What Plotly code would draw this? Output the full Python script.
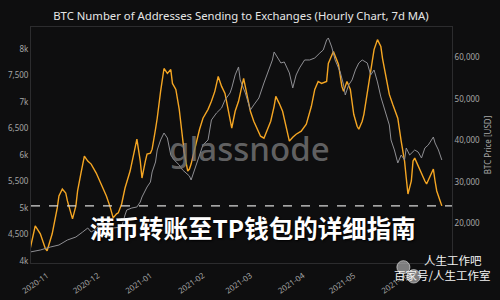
import plotly.graph_objects as go

# ---- data ----
addr_dates = ["2020-10-22","2020-10-25","2020-10-28","2020-10-31","2020-11-01","2020-11-04","2020-11-07","2020-11-08",
 "2020-11-10","2020-11-12","2020-11-13","2020-11-15","2020-11-16","2020-11-18","2020-11-19","2020-11-21","2020-11-23",
 "2020-11-25","2020-11-27","2020-11-30","2020-12-02","2020-12-04","2020-12-06","2020-12-08","2020-12-10","2020-12-12",
 "2020-12-13","2020-12-15","2020-12-17","2020-12-20","2020-12-22","2020-12-24","2020-12-26","2020-12-27","2020-12-29",
 "2020-12-30","2021-01-01","2021-01-02","2021-01-04","2021-01-05","2021-01-07","2021-01-09","2021-01-11","2021-01-13",
 "2021-01-14","2021-01-16","2021-01-18","2021-01-20","2021-01-21","2021-01-23","2021-01-24","2021-01-25","2021-01-27",
 "2021-01-28","2021-01-30","2021-02-01","2021-02-04","2021-02-06","2021-02-08","2021-02-10","2021-02-12","2021-02-14",
 "2021-02-16","2021-02-18","2021-02-20","2021-02-22","2021-02-25","2021-02-27","2021-03-01","2021-03-03","2021-03-05",
 "2021-03-07","2021-03-09","2021-03-11","2021-03-13","2021-03-15","2021-03-16","2021-03-18","2021-03-20","2021-03-22",
 "2021-03-24","2021-03-26","2021-03-28","2021-03-31","2021-04-03","2021-04-06","2021-04-08","2021-04-10","2021-04-12",
 "2021-04-15","2021-04-16","2021-04-19","2021-04-21","2021-04-22","2021-04-24","2021-04-25","2021-04-27","2021-04-28",
 "2021-04-29","2021-05-01","2021-05-03","2021-05-04","2021-05-06","2021-05-07","2021-05-09","2021-05-11","2021-05-13",
 "2021-05-15","2021-05-17","2021-05-18","2021-05-20","2021-05-22","2021-05-24","2021-05-27","2021-05-29","2021-05-31",
 "2021-06-01","2021-06-02","2021-06-04","2021-06-05","2021-06-06","2021-06-08","2021-06-10","2021-06-12","2021-06-13",
 "2021-06-15","2021-06-17","2021-06-18","2021-06-19","2021-06-21","2021-06-22"]
addresses = [4229,4662,4511,4229,4192,4511,5000,5226,5357,5282,5132,4906,4793,5038,5320,5658,5978,5884,5827,5658,
 5508,5376,5226,5038,4812,4887,4906,5075,5376,5696,6034,6297,5884,5564,5884,6015,6034,6109,6485,6692,7200,7632,
 7538,7613,7350,7237,6861,6354,6034,5696,5733,5827,6109,6260,6485,6692,6861,7012,7200,7482,7294,7162,6861,6504,
 6824,7012,7444,7106,6824,6636,6504,6354,6316,6485,6636,6918,7106,6974,6824,6542,6260,6335,6391,6448,6579,6918,
 7237,7388,7350,7388,7726,7952,7801,7707,7294,7200,7388,7294,7237,6767,6542,6485,6636,6767,7162,7576,7989,8177,
 8046,7820,7482,7143,6955,6692,6260,5884,5564,5263,5508,5884,5940,5790,5639,5508,5451,5602,5733,5508,5320,5132,5038]

price_dates = ["2020-10-22","2020-10-28","2020-11-03","2020-11-08","2020-11-13","2020-11-18","2020-11-22","2020-11-25",
 "2020-11-27","2020-11-30","2020-12-02","2020-12-06","2020-12-10","2020-12-13","2020-12-15","2020-12-17","2020-12-18",
 "2020-12-21","2020-12-24","2020-12-26","2020-12-27","2020-12-30","2021-01-01","2021-01-02","2021-01-04","2021-01-05",
 "2021-01-07","2021-01-09","2021-01-11","2021-01-13","2021-01-15","2021-01-18","2021-01-20","2021-01-22","2021-01-24",
 "2021-01-25","2021-01-28","2021-01-30","2021-02-01","2021-02-04","2021-02-06","2021-02-09","2021-02-12","2021-02-14",
 "2021-02-17","2021-02-18","2021-02-20","2021-02-22","2021-02-23","2021-02-26","2021-02-28","2021-03-01","2021-03-03",
 "2021-03-06","2021-03-09","2021-03-12","2021-03-14","2021-03-15","2021-03-17","2021-03-19","2021-03-21","2021-03-24",
 "2021-03-26","2021-03-28","2021-03-30","2021-04-02","2021-04-05","2021-04-08","2021-04-11","2021-04-13","2021-04-15",
 "2021-04-16","2021-04-18","2021-04-20","2021-04-23","2021-04-25","2021-04-26","2021-04-28","2021-04-30","2021-05-02",
 "2021-05-04","2021-05-06","2021-05-09","2021-05-11","2021-05-13","2021-05-15","2021-05-17","2021-05-20","2021-05-22",
 "2021-05-23","2021-05-25","2021-05-27","2021-05-29","2021-05-31","2021-06-01","2021-06-03","2021-06-06","2021-06-08",
 "2021-06-10","2021-06-12","2021-06-14","2021-06-17","2021-06-18","2021-06-20","2021-06-22"]
price = [13083,13565,14288,14770,15975,16698,17903,18867,17903,18626,19590,19349,18867,19108,19108,22000,23205,23687,
 23928,25133,26338,28748,29953,32363,34773,37665,40075,41762,40557,36460,35255,34050,32845,32122,31399,30435,34050,
 36460,38870,40075,44895,46582,47787,49715,51402,52607,55740,57668,54535,51402,48510,47305,48510,50197,53812,56945,
 59355,61283,59837,58632,58873,56222,52607,55740,57427,59355,59355,59837,61042,61765,64175,64657,62488,59355,56463,
 53330,50920,53330,54535,56945,58632,59355,58632,55740,56945,54053,50438,46582,43690,40075,37665,34532,36460,35255,
 38147,36460,37665,37183,35737,38147,38870,40798,39352,37665,35255]

left_ticks = [4000, 4500, 5000, 5500, 6000, 6500, 7000, 7500, 8000]
left_ticktext = ["4k", "4,500", "5k", "5,500", "6k", "6,500", "7k", "7,500", "8k"]
right_ticks = [20000, 30000, 40000, 50000, 60000]

title = "BTC Number of Addresses Sending to Exchanges (Hourly Chart, 7d MA)"
overlay = "满币转账至TP钱包的详细指南"

fig = go.Figure()
fig.add_trace(go.Scatter(x=price_dates, y=price, mode="lines", yaxis="y2",
                         line=dict(color="#8e8e93", width=1), showlegend=False))
fig.add_trace(go.Scatter(x=addr_dates, y=addresses, mode="lines",
                         line=dict(color="#f5a623", width=1.4), showlegend=False))

# reference line at the latest value
fig.add_shape(type="line", xref="paper", x0=0, x1=1, yref="y", y0=addresses[-1], y1=addresses[-1],
              line=dict(color="#d8d8d8", width=1.3, dash="dash"))

tickfont = dict(family="Noto Sans", size=8, color="#a6a6a6")
fig.update_layout(
    width=500, height=300,
    margin=dict(l=31, r=48, t=27, b=37),
    paper_bgcolor="#0e0e0f", plot_bgcolor="#0e0e0f",
    title=dict(text=title, x=0.482, xanchor="center", y=0.945, yanchor="middle",
               font=dict(family="Noto Sans", size=11.3, color="#e6e6e6")),
    xaxis=dict(type="date", range=["2020-10-22 12:00", "2021-06-28"], dtick="M1", tickformat="%Y-%m",
               tickangle=-35, tickfont=tickfont, showgrid=False, zeroline=False, automargin=False,
               ticklabelstandoff=4,
               showline=True, linecolor="#2c2c2e", linewidth=1, mirror=True, ticks=""),
    yaxis=dict(range=[3960, 8415], tickvals=left_ticks, ticktext=left_ticktext, tickfont=tickfont,
               showgrid=False, zeroline=False, showline=True, linecolor="#2c2c2e", ticks="",
               automargin=False),
    yaxis2=dict(range=[10434, 67300], tickvals=right_ticks, tickprefix="$", tickformat=",",
                overlaying="y", side="right", tickfont=tickfont, showgrid=False, zeroline=False,
                showline=True, linecolor="#2c2c2e", ticks="", automargin=False,
                title=dict(text="BTC Price [USD]", font=dict(family="Noto Sans", size=8, color="#a6a6a6"),
                           standoff=6)),
)

# watermark
fig.add_annotation(text="glassnode", xref="paper", yref="paper", x=0.518, y=0.485, showarrow=False,
                   font=dict(family="Noto Sans", size=33, color="rgba(120,120,120,0.8)", weight=500))
# overlay title text
fig.add_annotation(text=overlay, xref="paper", yref="paper", x=0.527, y=0.068, showarrow=False,
                   font=dict(family="Noto Sans CJK SC", size=24.5, color="#ffffff", weight="bold",
                             shadow="1px 1px 2px #000"))
# bottom-right watermark
fig.add_shape(type="circle", xref="paper", yref="paper", x0=0.869, x1=0.900, y0=-0.045, y1=0.01,
              fillcolor="rgba(200,200,200,0.6)", line=dict(color="#eeeeee", width=0.6))
fig.add_shape(type="circle", xref="paper", yref="paper", x0=0.893, x1=0.925, y0=-0.085, y1=-0.028,
              fillcolor="rgba(200,200,200,0.6)", line=dict(color="#eeeeee", width=0.6))
fig.add_annotation(text="人生工作吧", xref="paper", yref="paper", x=1.074, y=-0.024, showarrow=False,
                   xanchor="right", borderpad=0, font=dict(family="Noto Sans CJK SC", size=11.5, color="#f2f2f2"))
fig.add_annotation(text="百家号/人生工作室", xref="paper", yref="paper", x=1.095, y=-0.087, showarrow=False,
                   xanchor="right", borderpad=0, font=dict(family="Noto Sans CJK SC", size=11.5, color="#f2f2f2"))

fig.write_html("out.html")
